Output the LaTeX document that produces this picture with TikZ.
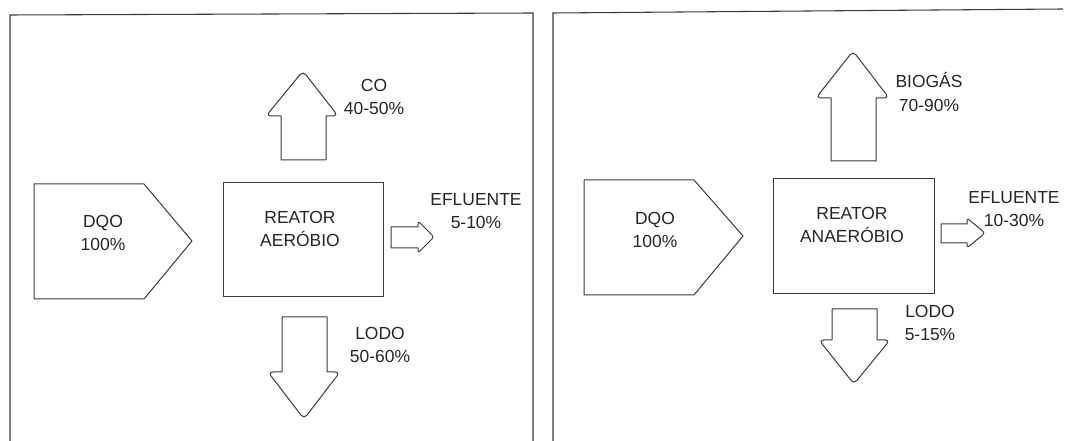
\documentclass[tikz,border=0pt]{standalone}
\usepackage{fontspec}
\setmainfont{Liberation Sans}
\definecolor{scanink}{HTML}{262626}
\definecolor{scanline}{HTML}{3A3A3A}

\begin{document}
\begin{tikzpicture}[
  x=0.75pt,
  y=-0.75pt,
  every node/.style={font=\fontsize{13.1}{17.3}\selectfont, text=scanink},
  frame/.style={scanline, line width=0.8pt},
  outline/.style={scanline, line width=0.75pt, line join=round},
  label/.style={align=center, inner sep=0pt},
  reactor/.style={draw=scanline, line width=0.75pt, inner sep=0pt,
    minimum width=120pt, minimum height=85.5pt}
]
  \useasboundingbox (0,0) rectangle (1065,441);

  % ---- the two frames (open at the bottom) ------------------------------
  \draw[frame] (10,441) -- (10,15) -- (533,13) -- (533,441);
  \draw[frame] (553,441) -- (553,13) -- (1063,9);

  % ---- left panel: aerobic reactor --------------------------------------
  \draw[outline] (34,184) -- (144,184) -- (192,241) -- (144,299)
    -- (34,299) -- cycle;
  \node[label] (dqoA) at (103,233) {DQO\\100\%};

  \node[reactor] (reatorA) at (303,240) {};
  \node[label] (reatorAtxt) at (300,229) {REATOR\\AERÓBIO};

  % up: gas
  \draw[outline] (281,160) -- (326,160) -- (326,116)
    [rounded corners=3.5pt] -- (338,116) -- (303,71) -- (266,116)
    [sharp corners] -- (281,116) -- cycle;
  \node[label] (coA) at (374,97) {CO\\40-50\%};

  % right: effluent
  \draw[outline] (391,227) -- (418,227)
    [rounded corners=2pt] -- (418,221) -- (434,237) -- (418,253)
    [sharp corners] -- (418,248) -- (391,248) -- cycle;
  \node[label] (efluenteA) at (476,211) {EFLUENTE\\5-10\%};

  % down: sludge
  \draw[outline] (282,317) -- (327,317) -- (327,372)
    [rounded corners=3.5pt] -- (340,372) -- (304,419) -- (268,372)
    [sharp corners] -- (282,372) -- cycle;
  \node[label] (lodoA) at (380,345) {LODO\\50-60\%};

  % ---- right panel: anaerobic reactor -----------------------------------
  \draw[outline] (584,180) -- (694,180) -- (743,236) -- (694,295)
    -- (584,295) -- cycle;
  \node[label] (dqoB) at (655,230) {DQO\\100\%};

  \node[reactor, minimum width=120.75pt, minimum height=86.25pt]
    (reatorB) at (853.5,236.5) {};
  \node[label] (reatorBtxt) at (852,225) {REATOR\\ANAERÓBIO};

  % up: biogas
  \draw[outline] (831,161) -- (876,161) -- (876,98)
    [rounded corners=3.5pt] -- (889,98) -- (853,51) -- (816,98)
    [sharp corners] -- (831,98) -- cycle;
  \node[label] (biogasB) at (929,92) {BIOGÁS\\70-90\%};

  % right: effluent
  \draw[outline] (941,224) -- (967,224)
    [rounded corners=2pt] -- (967,218) -- (985,233) -- (967,248)
    [sharp corners] -- (967,243) -- (941,243) -- cycle;
  \node[label] (efluenteB) at (1014,209) {EFLUENTE\\10-30\%};

  % down: sludge
  \draw[outline] (832,309) -- (877,309) -- (877,340)
    [rounded corners=3.5pt] -- (890,340) -- (854,384) -- (819,340)
    [sharp corners] -- (832,340) -- cycle;
  \node[label] (lodoB) at (930,323) {LODO\\5-15\%};

\end{tikzpicture}
\end{document}
